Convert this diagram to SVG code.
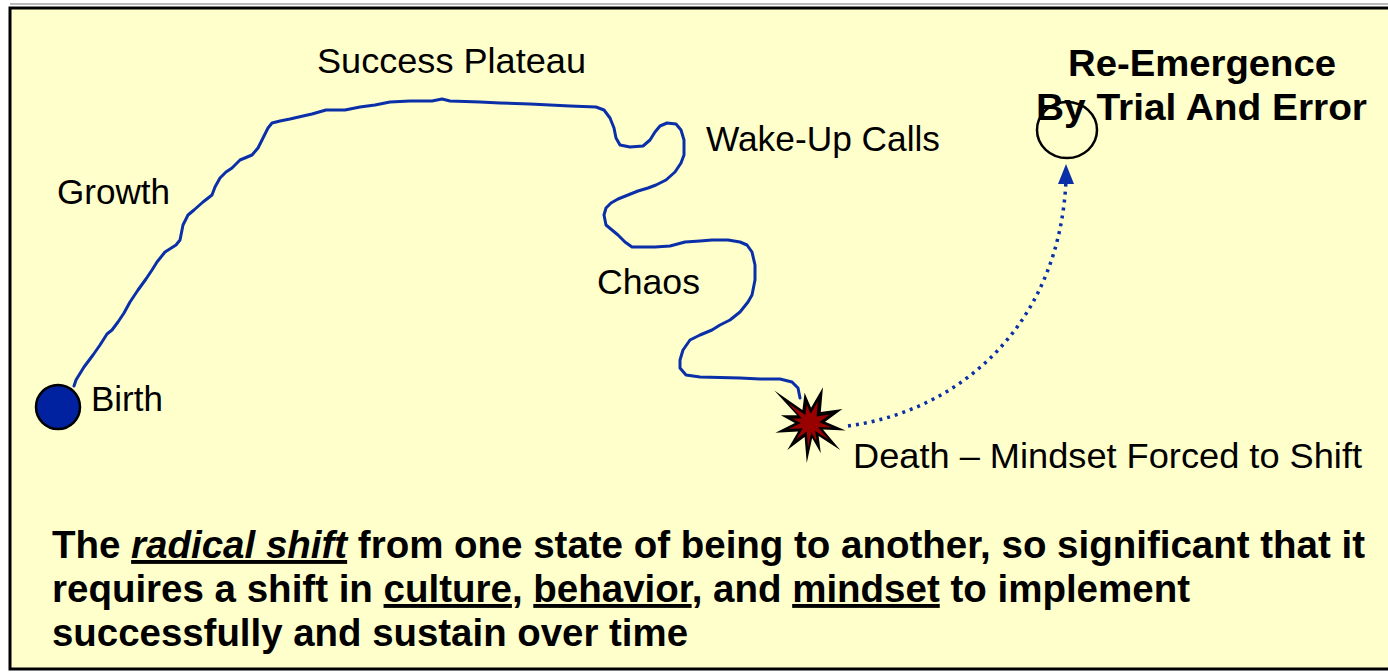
<svg xmlns="http://www.w3.org/2000/svg" width="1388" height="672" viewBox="0 0 1388 672">
<style>
.lbl{font-family:"Liberation Sans",Arial,sans-serif;font-size:35px;fill:#000}
.hdr{font-family:"Liberation Sans",Arial,sans-serif;font-size:36px;font-weight:bold;fill:#000}
.body{font-family:"Liberation Sans",Arial,sans-serif;font-size:39px;font-weight:bold;fill:#000}
.u{text-decoration:underline}
.curve{fill:none;stroke:#0a2fa8;stroke-width:3;stroke-linejoin:round;stroke-linecap:round}
.dots{fill:none;stroke:#0a2fa8;stroke-width:3.5;stroke-dasharray:3 5}
</style>
<rect x="0" y="0" width="1388" height="672" fill="#ffffff"/>
<line x1="10" y1="4" x2="1388" y2="4" stroke="#bbbbbb" stroke-width="2"/>
<rect x="10" y="8" width="1390" height="661" fill="#ffffcc" stroke="#000" stroke-width="3"/>

<g id="connectors">
<path id="journey" class="curve" d="M74,386 L76,380 L84,367 L93,355 L100,345 L107,334 L112,330 L118,322 L124,313 L130,302 L138,290 L146,279 L152,270 L157,262 L165,252 L176,245 L180,240 L183,225 L188,215 L194,210 L203,202 L212,195 L215,187 L220,178 L226,172 L232,168 L240,160 L252,155 L258,148 L264,136 L268,128 L272,123 L280,121 L290,119 L303,116 L312,114 L326,110 L345,110 L360,107 L375,105 L390,102 L410,101 L432,101 L442,99 L450,101 L480,102 L500,103 L530,104 L570,106 L596,107 L604,110 L610,118 L614,128 L616,138 L620,145 L630,147 L643,146 L650,140 L655,132 L660,126 L667,123 L676,124 L681,130 L684,140 L684,155 L681,163 L675,172 L666,180 L656,185 L648,188 L638,191 L628,195 L618,199 L611,203 L606,208 L604,215 L606,225 L612,230 L618,235 L625,242 L632,247 L655,247 L670,246 L685,242 L700,241 L712,240 L728,240 L740,242 L747,245 L752,252 L755,265 L755,280 L752,295 L748,302 L740,312 L730,320 L720,325 L712,330 L700,335 L690,340 L683,350 L680,360 L680,368 L686,375 L700,377 L740,378 L760,379 L780,379 L792,382 L798,388 L800,398"/>
<path id="reemerge" class="dots" d="M848,426 C965,410 1060,320 1066,180"/>
<path d="M1066,164 L1074,184 L1058,184 z" fill="#0a2fa8"/>
</g>

<g id="birth">
<circle cx="58" cy="407" r="22" fill="#0022a0" stroke="#000" stroke-width="2.5"/>
<text class="lbl" x="91" y="411">Birth</text>
</g>

<g id="growth"><text class="lbl" x="57" y="204" textLength="113" lengthAdjust="spacingAndGlyphs">Growth</text></g>
<g id="plateau"><text class="lbl" x="317" y="73" textLength="269" lengthAdjust="spacingAndGlyphs">Success Plateau</text></g>
<g id="wakeup"><text class="lbl" x="706" y="151" textLength="234" lengthAdjust="spacingAndGlyphs">Wake-Up Calls</text></g>
<g id="chaos"><text class="lbl" x="597" y="294" textLength="103" lengthAdjust="spacingAndGlyphs">Chaos</text></g>

<g id="death">
<polygon fill="#000" transform="translate(810 424) scale(1.08) translate(-810 -424)" points="777,393 803,411 805,395 811,409 822,390 820,413 840,410 824,422 843,430 822,429 838,448 818,435 820,451 812,437 807,460 805,436 789,448 799,431 778,432 796,423 783,416 798,416"/>
<polygon fill="#990000" transform="translate(810 423) scale(0.66) translate(-810 -423)" points="777,393 803,411 805,395 811,409 822,390 820,413 840,410 824,422 843,430 822,429 838,448 818,435 820,451 812,437 807,460 805,436 789,448 799,431 778,432 796,423 783,416 798,416"/>
<text class="lbl" x="853" y="468" textLength="509" lengthAdjust="spacingAndGlyphs">Death – Mindset Forced to Shift</text>
</g>

<g id="reemergence">
<ellipse cx="1067" cy="130" rx="30" ry="28" fill="none" stroke="#000" stroke-width="2.5"/>
<text class="hdr" x="1068" y="76" textLength="268" lengthAdjust="spacingAndGlyphs">Re-Emergence</text>
<text class="hdr" x="1036" y="120" textLength="331" lengthAdjust="spacingAndGlyphs">By Trial And Error</text>
</g>

<g id="definition">
<text class="body" x="52" y="558" textLength="1313" lengthAdjust="spacingAndGlyphs">The <tspan class="u" font-style="italic">radical shift</tspan> from one state of being to another, so significant that it</text>
<text class="body" x="52" y="602" textLength="1138" lengthAdjust="spacingAndGlyphs">requires a shift in <tspan class="u">culture</tspan>, <tspan class="u">behavior</tspan>, and <tspan class="u">mindset</tspan> to implement</text>
<text class="body" x="52" y="646" textLength="636" lengthAdjust="spacingAndGlyphs">successfully and sustain over time</text>
</g>
</svg>
